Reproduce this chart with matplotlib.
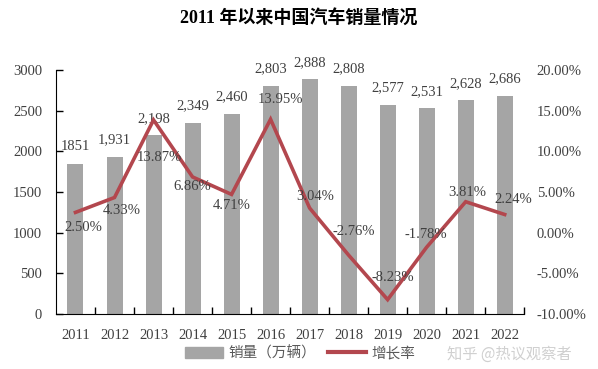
import matplotlib
matplotlib.use("Agg")
import matplotlib.pyplot as plt
import numpy as np

years = ["2011", "2012", "2013", "2014", "2015", "2016",
         "2017", "2018", "2019", "2020", "2021", "2022"]
sales = [1851, 1931, 2198, 2349, 2460, 2803, 2888, 2808, 2577, 2531, 2628, 2686]
sales_text = ["1851", "1,931", "2,198", "2,349", "2,460", "2,803",
              "2,888", "2,808", "2,577", "2,531", "2,628", "2,686"]
growth = [2.50, 4.33, 13.87, 6.86, 4.71, 13.95, 3.04, -2.76, -8.23, -1.78, 3.81, 2.24]
# label offsets (pixels) for the growth labels
growth_off = [(8, -15), (7, -13), (6, -38), (0, -10), (0, -11), (10, 20),
              (6, 11), (5, 24), (5, 22), (-1, 13), (2, 9), (9, 15)]

SERIF = ["Liberation Serif", "Noto Sans CJK SC"]
CJK = ["Noto Sans CJK SC", "DejaVu Sans"]
TXT = "#404040"
BAR = "#a5a5a5"
LINE = "#b3474e"

fig = plt.figure(figsize=(5.98, 3.69), dpi=100)
ax = fig.add_axes([0.0936, 0.149, 0.783, 0.661])
ax2 = ax.twinx()

x = np.arange(len(years))
ax.bar(x, sales, width=0.41, color=BAR, zorder=1)
ax.set_xlim(-0.5, len(years) - 0.5)
ax.set_ylim(0, 3000)
ax.set_yticks(range(0, 3001, 500))
ax.set_xticks(x)
ax.set_xticklabels(years)
ax.set_xticks(np.arange(0.5, len(years) - 0.5 + 0.01, 1), minor=True)
ax.tick_params(axis="x", which="major", length=0, pad=11)
ax.tick_params(axis="x", which="minor", direction="in", length=5, width=1)
ax.tick_params(axis="y", direction="in", length=5, width=1, pad=10)
for lab in ax.get_xticklabels() + ax.get_yticklabels():
    lab.set_family(SERIF)
    lab.set_fontsize(10.5)
    lab.set_color(TXT)
for s in ["top", "right"]:
    ax.spines[s].set_visible(False)
ax.spines["left"].set_color("black")
ax.spines["bottom"].set_color("black")

for xi, v, t in zip(x, sales, sales_text):
    ax.annotate(t, (xi, v), xytext=(0, 17), textcoords="offset pixels",
                ha="center", va="center", family=SERIF, fontsize=10.5, color=TXT)

ax2.plot(x, growth, color=LINE, lw=2.6, zorder=3, solid_joinstyle="miter")
ax2.set_ylim(-10, 20)
ax2.set_yticks(range(-10, 21, 5))
ax2.set_yticklabels([f"{v:.2f}%" for v in range(-10, 21, 5)])
ax2.tick_params(axis="y", length=0, pad=9)
for lab in ax2.get_yticklabels():
    lab.set_family(SERIF)
    lab.set_fontsize(10.5)
    lab.set_color(TXT)
for s in ["top", "right", "left", "bottom"]:
    ax2.spines[s].set_visible(False)

for xi, g, (dx, dy) in zip(x, growth, growth_off):
    ax2.annotate(f"{g:.2f}%", (xi, g), xytext=(dx, dy), textcoords="offset pixels",
                 ha="center", va="center", family=SERIF, fontsize=10.5, color=TXT)

fig.text(0.5, 0.951, "2011 年以来中国汽车销量情况", ha="center", va="center",
         family=SERIF, fontsize=13, weight="bold", color="black")

# legend drawn in figure coords
handles = [plt.Rectangle((0, 0), 1, 1, color=BAR),
           plt.Line2D([0], [0], color=LINE, lw=3)]
fig.legend(handles, ["销量（万辆）", "增长率"], loc="center", ncol=2,
           bbox_to_anchor=(0.502, 0.043), frameon=False,
           prop={"family": CJK, "size": 10.5}, handlelength=2.6,
           handleheight=0.8, columnspacing=0.8, handletextpad=0.4,
           labelcolor="#595959")

# faint watermark, kept just under the year labels
fig.text(0.852, 0.04, "知乎 @热议观察者", ha="center", va="center",
         family=CJK, fontsize=11, color="#d0d0d0", zorder=5)

fig.savefig("out.png", dpi=100)
